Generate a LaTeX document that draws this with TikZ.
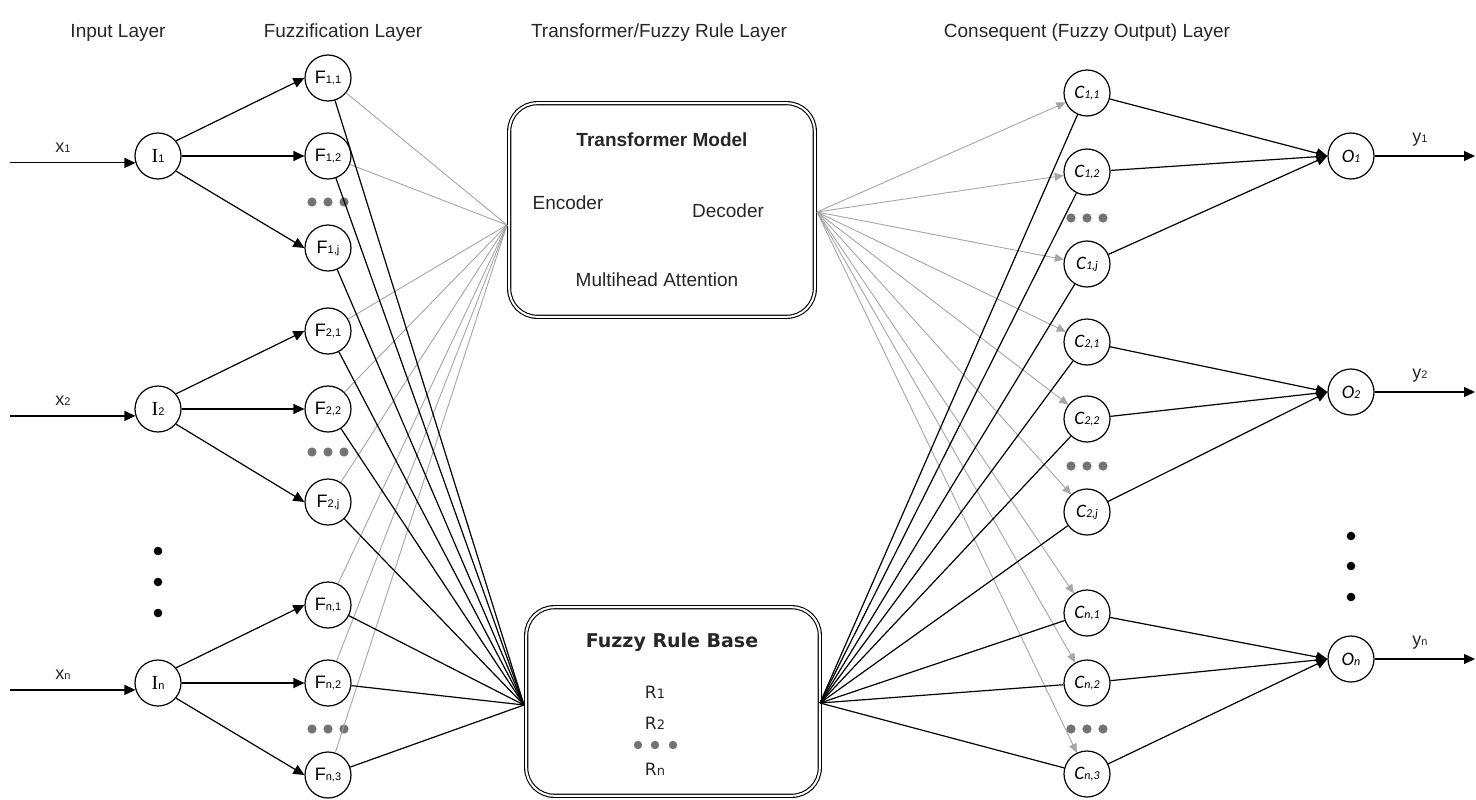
\documentclass[tikz,border=0pt]{standalone}
\usepackage{fontspec}
\setmainfont{Liberation Sans}
\newfontfamily\carl{Carlito}
\newfontfamily\dvs{DejaVu Sans}
\newfontfamily\lserif{Liberation Serif}
\usetikzlibrary{arrows.meta,calc}
\newcommand\flab[2]{{\fontsize{18}{18}\selectfont #1}{\fontsize{11}{11}\selectfont #2}}
\newcommand\clab[2]{{\carl\itshape\fontsize{19}{19}\selectfont #1}{\carl\itshape\fontsize{12}{12}\selectfont #2}}
\newcommand\ilab[1]{{\lserif\fontsize{20}{20}\selectfont I}{\fontsize{11}{11}\selectfont #1}}
\newcommand\rlab[1]{{\dvs\fontsize{17}{17}\selectfont R}{\dvs\fontsize{13}{13}\selectfont #1}}
\begin{document}
\begin{tikzpicture}[x=1pt,y=-1pt,
  neuron/.style={circle, draw, line width=1.2pt, minimum size=46pt, inner sep=0pt, fill=white},
  conn/.style={line width=1.2pt},
  arr/.style={conn, -{Triangle[length=11pt,width=10pt]}},
  gline/.style={line width=0.9pt, draw=black!35},
  garr/.style={gline, -{Triangle[length=9pt,width=8pt]}, black!35},
  bigbox/.style={draw, double, double distance=2pt, line width=1.1pt, rounded corners=28pt, inner sep=0pt},
  title/.style={font=\fontsize{19}{22}\selectfont, text=black!85},
  txt/.style={font=\fontsize{19}{22}\selectfont, text=black!85},
  btxt/.style={font=\bfseries\fontsize{19}{22}\selectfont, text=black!85},
  lbl/.style={text=black!85},
  gdot/.style={fill=black!55},
  bdot/.style={fill=black}
]
\useasboundingbox (0,0) rectangle (1476,800);

% titles
\node[title] (t1) at (118,33) {Input Layer};
\node[title] (t2) at (343,33) {Fuzzification Layer};
\node[title] (t3) at (659,33) {Transformer/Fuzzy Rule Layer};
\node[title] (t4) at (1087,33) {Consequent (Fuzzy Output) Layer};

% big boxes
\node[bigbox, minimum width=305.6pt, minimum height=213.6pt] (T) at (662,210) {};
\node[btxt] (Ttitle) at (662,140) {Transformer Model};
\node[txt] (Tenc) at (568,203) {Encoder};
\node[txt] (Tdec) at (728,211) {Decoder};
\node[txt] (Tmha) at (657,280) {Multihead Attention};

\node[bigbox, minimum width=293.6pt, minimum height=188.6pt] (R) at (673,701.5) {};
\node[font=\dvs\bfseries\fontsize{19}{22}\selectfont, text=black!85] (Rtitle) at (672,642) {Fuzzy Rule Base};
\node[lbl] (R1) at (655,692) {\rlab{1}};
\node[lbl] (R2) at (655,723) {\rlab{2}};
\node[lbl] (Rn) at (655,769) {\rlab{n}};
\foreach \x in {638,655,673} \fill[gdot] (\x,745) circle (4.2);

\coordinate (Tin) at (507,225);
\coordinate (Tout) at (817,212);
\coordinate (Rin) at (524,705);
\coordinate (Rout) at (820,703);

% input neurons
\node[neuron] (I1) at (158,156) {\ilab{1}};
\node[neuron] (I2) at (158,409) {\ilab{2}};
\node[neuron] (In) at (158,683) {\ilab{n}};

% fuzzification neurons
\node[neuron] (F11) at (328,78) {\flab{F}{1,1}};
\node[neuron] (F12) at (328,156) {\flab{F}{1,2}};
\node[neuron] (F1j) at (328,248) {\flab{F}{1,j}};
\node[neuron] (F21) at (328,331) {\flab{F}{2,1}};
\node[neuron] (F22) at (328,409) {\flab{F}{2,2}};
\node[neuron] (F2j) at (328,502) {\flab{F}{2,j}};
\node[neuron] (Fn1) at (328,605) {\flab{F}{n,1}};
\node[neuron] (Fn2) at (328,683) {\flab{F}{n,2}};
\node[neuron] (Fn3) at (328,775) {\flab{F}{n,3}};

% consequent neurons
\node[neuron] (C11) at (1087,93) {\clab{C}{1,1}};
\node[neuron] (C12) at (1087,172) {\clab{C}{1,2}};
\node[neuron] (C1j) at (1087,264) {\clab{C}{1,j}};
\node[neuron] (C21) at (1087,342) {\clab{C}{2,1}};
\node[neuron] (C22) at (1087,419) {\clab{C}{2,2}};
\node[neuron] (C2j) at (1087,512) {\clab{C}{2,j}};
\node[neuron] (Cn1) at (1087,613) {\clab{C}{n,1}};
\node[neuron] (Cn2) at (1087,683) {\clab{C}{n,2}};
\node[neuron] (Cn3) at (1087,774) {\clab{C}{n,3}};

% output neurons
\node[neuron] (O1) at (1351,156) {\clab{O}{1}};
\node[neuron] (O2) at (1351,392) {\clab{O}{2}};
\node[neuron] (On) at (1351,659) {\clab{O}{n}};

% dots
\foreach \y in {202,452,729} \foreach \dx in {-16,0,16} \fill[gdot] (328+\dx,\y) circle (4.6);
\foreach \y in {218,466,729} \foreach \dx in {-16,0,16} \fill[gdot] (1087+\dx,\y) circle (4.6);
\foreach \y in {551,582,613} \fill[bdot] (158,\y) circle (4.3);
\foreach \y in {536,566,597} \fill[bdot] (1351,\y) circle (4.3);

% inputs
\foreach \n/\s in {I1/1,I2/2,In/n} {
  \path (\n.197) ++(-125,0) coordinate (x\n);
  \draw[arr] (x\n) -- (\n.197);
  \node[lbl] at ($(x\n)!0.42!(\n.197)+(0,-15)$) {\flab{x}{\s}};
}

% input -> fuzzification
\draw[arr] (I1.40) -- (F11.west);
\draw[arr] (I1.east) -- (F12.west);
\draw[arr] (I1.-40) -- (F1j.west);
\draw[arr] (I2.40) -- (F21.west);
\draw[arr] (I2.east) -- (F22.west);
\draw[arr] (I2.-40) -- (F2j.west);
\draw[arr] (In.40) -- (Fn1.west);
\draw[arr] (In.east) -- (Fn2.west);
\draw[arr] (In.-40) -- (Fn3.west);

% fuzzification -> transformer (gray)
\foreach \n in {F11,F12,F21,F22,F2j,Fn1,Fn2,Fn3} \draw[gline] (\n) -- (Tin);
% fuzzification -> rule base (black)
\foreach \n in {F11,F12,F1j,F21,F22,F2j,Fn1,Fn2,Fn3} \draw[conn] (\n) -- (Rin);

% transformer -> consequent (gray arrows)
\foreach \n in {C11,C12,C1j,C21,C22,C2j,Cn1,Cn2,Cn3} \draw[garr] (Tout) -- (\n);
% rule base -> consequent (black)
\foreach \n in {C11,C12,C1j,C21,C22,C2j,Cn1,Cn2,Cn3} \draw[conn] (Rout) -- (\n);

% consequent -> output
\foreach \c in {C11,C12,C1j} \draw[arr] (\c) -- (O1.west);
\foreach \c in {C21,C22,C2j} \draw[arr] (\c) -- (O2.west);
\foreach \c in {Cn1,Cn2,Cn3} \draw[arr] (\c) -- (On.west);

% outputs
\foreach \n/\s/\yy in {O1/1/156,O2/2/392,On/n/659} {
  \coordinate (y\n) at (1475,\yy);
  \draw[arr] (\n.east) -- (y\n);
  \node[lbl] at (1420,\yy-16) {\flab{y}{\s}};
}
\end{tikzpicture}
\end{document}
